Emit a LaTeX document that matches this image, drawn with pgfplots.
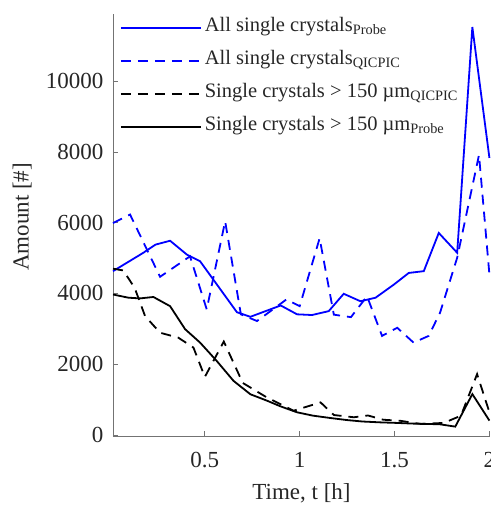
\documentclass[border=0pt]{standalone}
\usepackage{fontspec}
\setmainfont{Liberation Serif}
\usepackage{pgfplots}
\pgfplotsset{compat=1.18}
\definecolor{axgray}{rgb}{0.45,0.45,0.45}
\begin{document}
\begin{tikzpicture}
\begin{axis}[
  scale only axis,
  width=377bp, height=422bp,
  at={(0,0)}, anchor=south west,
  xmin=0.016, xmax=2.003,
  ymin=-30, ymax=11900,
  axis lines=left,
  axis line style={-, draw=axgray, line width=0.8bp},
  tick align=inside,
  major tick length=5bp,
  tick style={draw=axgray, line width=0.8bp},
  xtick={0.5,1,1.5,2},
  ytick={0,2000,4000,6000,8000,10000},
  scaled y ticks=false,
  /pgf/number format/.cd, 1000 sep={}, assume math mode=true,
  /pgfplots/.cd,
  ticklabel style={font=\fontsize{23bp}{27bp}\selectfont, text=black!85},
  yticklabel style={xshift=-6bp},
  xticklabel style={yshift=-13bp},
  xlabel={Time, t [h]},
  ylabel={Amount [\#]},
  label style={font=\fontsize{23bp}{27bp}\selectfont, text=black!85},
  xlabel style={at={(axis description cs:0.5,-0.135)}, anchor=center},
  ylabel style={at={(axis description cs:-0.241,0.519)}, anchor=center},
  clip=false,
  legend style={draw=none, fill=none, inner sep=0pt, outer sep=0pt,
    at={(axis description cs:0.0186,1.003)}, anchor=north west,
    font=\fontsize{20.5bp}{24bp}\selectfont,
    row sep=2bp,
    nodes={text=black!85, inner sep=3bp, text height=16bp, text depth=9bp}},
  legend cell align=left,
  legend image code/.code={\draw[#1] (0bp,0bp) -- (80bp,0bp);},
  every axis plot/.append style={line width=1.8bp},
]
\addplot[blue, solid] coordinates {
(0.016,4630) (0.176,5150) (0.24,5380) (0.317,5490) (0.405,5100) (0.475,4910)
(0.669,3470) (0.74,3340) (0.90,3660) (0.986,3410) (1.065,3390) (1.153,3500)
(1.232,3990) (1.32,3780) (1.40,3880) (1.496,4250) (1.575,4580) (1.654,4630)
(1.733,5710) (1.83,5150) (1.91,11530) (2.0,7830)};
\addlegendentry{All single crystals\textsubscript{Probe}}
\addplot[blue, dash pattern=on 10bp off 7bp] coordinates {
(0.016,5990) (0.106,6230) (0.264,4470) (0.422,5050) (0.51,3550) (0.607,6040)
(0.69,3410) (0.775,3220) (0.93,3830) (1.0,3640) (1.105,5560) (1.18,3400)
(1.27,3330) (1.355,3920) (1.434,2800) (1.514,3030) (1.60,2610) (1.68,2800)
(1.74,3460) (1.83,5010) (1.945,7915) (2.0,4530)};
\addlegendentry{All single crystals\textsubscript{QICPIC}}
\addplot[black, dash pattern=on 10bp off 7bp] coordinates {
(0.016,4700) (0.07,4650) (0.13,4160) (0.185,3360) (0.264,2890) (0.36,2750)
(0.44,2470) (0.50,1640) (0.60,2640) (0.70,1470) (0.827,1060) (0.968,685)
(1.11,920) (1.18,563) (1.285,500) (1.36,550) (1.44,430) (1.53,400)
(1.64,310) (1.76,340) (1.85,545) (1.935,1720) (2.0,640)};
\addlegendentry{Single crystals > 150 µm\textsubscript{QICPIC}}
\addplot[black, solid] coordinates {
(0.016,3970) (0.097,3880) (0.158,3860) (0.229,3900) (0.317,3640) (0.396,2990)
(0.475,2610) (0.563,2090) (0.651,1530) (0.74,1150) (0.827,970) (0.898,810)
(0.986,640) (1.07,545) (1.16,480) (1.25,420) (1.33,380) (1.426,355)
(1.51,340) (1.6,320) (1.68,310) (1.74,300) (1.82,235) (1.91,1155) (2.0,405)};
\addlegendentry{Single crystals > 150 µm\textsubscript{Probe}}
\end{axis}
\pgfresetboundingbox
\path[use as bounding box] (-113bp,-70bp) rectangle (378bp,436bp);
\end{tikzpicture}
\end{document}
